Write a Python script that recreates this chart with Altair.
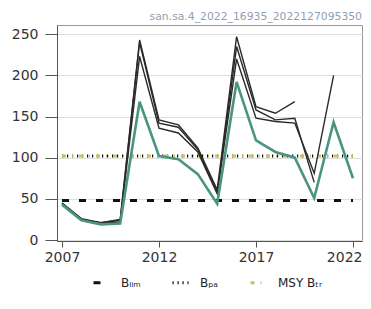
import altair as alt
import pandas as pd

years = list(range(2007, 2023))

# Latest assessment (green)
ssb_2022 = [43, 24, 19, 20, 168, 102, 98, 80, 44, 192, 121, 107, 100, 51, 143, 75]
# Earlier assessments (black/grey)
ssb_2021 = [44, 25, 20, 22, 223, 136, 130, 107, 56, 220, 148, 144, 142, 81, 200]
ssb_2020 = [45, 25, 21, 24, 240, 142, 137, 110, 58, 235, 158, 146, 148, 70]
ssb_2019 = [45, 26, 21, 25, 243, 146, 140, 112, 61, 247, 162, 154, 168]

ref_names = ["Bₗᵢₘ", "Bₚₐ", "MSY Bₜᵣ"]
ref_values = [48, 102, 102]
ref_colors = ["#111111", "#111111", "#c9c35a"]
ref_dashes = [[7, 10], [1.2, 3.8], [4, 6, 1, 6]]

title_text = "san.sa.4_2022_16935_2022127095350"

rows = []
for name, ser in [("a2019", ssb_2019), ("a2020", ssb_2020), ("a2021", ssb_2021)]:
    for y, v in zip(years, ser):
        rows.append({"year": y, "ssb": v, "run": name})
hist = pd.DataFrame(rows)
latest = pd.DataFrame({"year": years, "ssb": ssb_2022})

ref_rows = []
for n, v in zip(ref_names, ref_values):
    for y in (years[0], years[-1]):
        ref_rows.append({"year": y, "val": v, "ref": n})
refs = pd.DataFrame(ref_rows)

xscale = alt.Scale(domain=[2006.742, 2022.464], nice=False, zero=False)
yscale = alt.Scale(domain=[-1.2, 261.2], nice=False, zero=False)

xax = alt.Axis(values=[2007, 2012, 2017, 2022], format="d", title=None, grid=False,
               tickSize=6, labelPadding=3, labelFontSize=14, labelColor="#333333",
               domainColor="#555555", tickColor="#555555", labelFont="DejaVu Sans",
               labelAlign={"condition": {"test": "datum.value == 2022", "value": "right"},
                           "value": "center"},
               labelOffset={"condition": {"test": "datum.value == 2022", "value": 9},
                            "value": 0})
yax = alt.Axis(values=[0, 50, 100, 150, 200, 250], title=None, grid=True,
               gridColor="#dddddd", tickSize=12, labelPadding=7, labelFontSize=14,
               labelColor="#333333", domainColor="#555555", tickColor="#555555",
               labelFont="DejaVu Sans")

ref_layer = alt.Chart(refs).mark_line(strokeWidth=3).encode(
    x=alt.X("year:Q", scale=xscale, axis=xax),
    y=alt.Y("val:Q", scale=yscale, axis=yax),
    color=alt.Color("ref:N", scale=alt.Scale(domain=ref_names, range=ref_colors),
                    legend=alt.Legend(title=None, orient="none", direction="horizontal",
                                      legendX=35, legendY=248, symbolType="stroke",
                                      symbolSize=256, symbolStrokeWidth=3,
                                      labelFontSize=12, labelFont="DejaVu Sans",
                                      labelColor="#222222", labelOffset=10,
                                      columnPadding=25)),
    strokeDash=alt.StrokeDash("ref:N", scale=alt.Scale(domain=ref_names, range=ref_dashes)),
)

hist_layer = alt.Chart(hist).mark_line(strokeWidth=1.4).encode(
    x="year:Q",
    y="ssb:Q",
    detail="run:N",
    color=alt.value("#2a2a2a"),
)

latest_layer = alt.Chart(latest).mark_line(strokeWidth=2.6, color="#4a9580").encode(
    x="year:Q",
    y="ssb:Q",
)

chart = alt.layer(ref_layer, hist_layer, latest_layer).properties(
    width=305,
    height=216,
    autosize=alt.AutoSizeParams(type="none"),
    padding={"left": 49, "top": 17, "right": 1, "bottom": 50},
    title=alt.TitleParams(title_text, anchor="end", fontSize=10.8, color="#8fa0b4",
                          font="DejaVu Sans", fontWeight="normal", offset=3),
).configure_view(stroke="#999999", strokeWidth=1)

chart.save("out.html", embed_options={"renderer": "svg", "actions": False})
